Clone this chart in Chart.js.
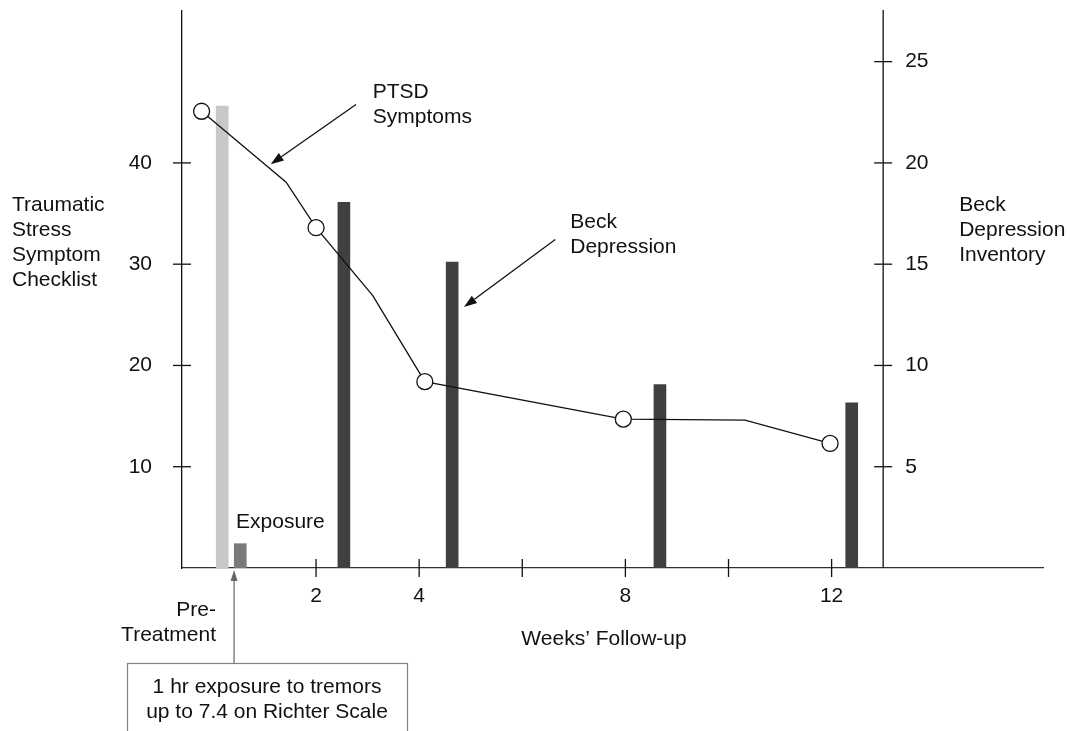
<!DOCTYPE html>
<html>
<head>
<meta charset="utf-8">
<script src="https://cdn.jsdelivr.net/npm/chart.js@4/dist/chart.umd.min.js"></script>
<style>
  html, body { margin: 0; padding: 0; background: #ffffff; }
  canvas { display: block; }
</style>
</head>
<body>
<canvas id="chart" width="1070" height="731"></canvas>
<script>
// Weeks of follow-up on the horizontal axis
const weekTicks = [2, 4, 6, 8, 10, 12];
const weekTickLabels = ['2', '4', '', '8', '', '12'];

// Left axis: Traumatic Stress Symptom Checklist
const tsscTicks = [10, 20, 30, 40];
// Right axis: Beck Depression Inventory
const bdiTicks = [5, 10, 15, 20, 25];

// PTSD symptom course (circles mark the assessments)
const ptsdWeeks  = [-0.22, 1.42, 2.0, 3.1, 4.11, 7.96, 10.32, 11.97];
const ptsdScores = [45.1, 38.1, 33.6, 26.9, 18.4, 14.7, 14.6, 12.3];
const ptsdAssessed = [true, false, true, false, true, true, false, true];

// Beck Depression scores
const beckPreWeeks  = [0.18];
const beckPreScores = [22.8];
const beckWeeks  = [2.54, 4.64, 8.67, 12.39];
const beckScores = [18.05, 15.1, 9.05, 8.15];

// Exposure marker
const exposureWeeks  = [0.53];
const exposureLevels = [2.4];

const FONT = "'Liberation Sans', Arial, Helvetica, sans-serif";
const FONT_SIZE = 21;
const INK = '#111111';
const BDI_AXIS_WEEK = 13;

function pts(xs, ys) { return xs.map((v, i) => ({ x: v, y: ys[i] })); }

function line(ctx, x1, y1, x2, y2) {
  ctx.beginPath(); ctx.moveTo(x1, y1); ctx.lineTo(x2, y2); ctx.stroke();
}

function arrow(ctx, x1, y1, x2, y2, len, half, color) {
  const ang = Math.atan2(y2 - y1, x2 - x1);
  const bx = x2 - len * Math.cos(ang), by = y2 - len * Math.sin(ang);
  ctx.strokeStyle = color; ctx.fillStyle = color;
  line(ctx, x1, y1, bx, by);
  ctx.beginPath();
  ctx.moveTo(x2, y2);
  ctx.lineTo(bx + half * Math.sin(ang), by - half * Math.cos(ang));
  ctx.lineTo(bx - half * Math.sin(ang), by + half * Math.cos(ang));
  ctx.closePath(); ctx.fill();
}

function lines(ctx, textLines, x, y, step) {
  textLines.forEach((t, i) => ctx.fillText(t, x, y + i * step));
}

// Axis lines, crossing tick marks, the right-hand BDI axis and annotations
const decor = {
  id: 'decor',
  afterDraw(chart) {
    const { ctx, chartArea: a, scales: { x, y, y2 } } = chart;
    ctx.save();
    ctx.lineWidth = 1.3;
    ctx.strokeStyle = INK;

    weekTicks.forEach(v => {
      const px = x.getPixelForValue(v);
      line(ctx, px, a.bottom - 9, px, a.bottom + 9);
    });
    tsscTicks.forEach(v => {
      const py = y.getPixelForValue(v);
      line(ctx, a.left - 9, py, a.left + 9, py);
    });

    const rx = x.getPixelForValue(BDI_AXIS_WEEK);
    line(ctx, rx, a.top - 1, rx, a.bottom);
    ctx.font = FONT_SIZE + 'px ' + FONT;
    ctx.fillStyle = INK;
    ctx.textBaseline = 'middle';
    ctx.textAlign = 'left';
    bdiTicks.forEach(v => {
      const py = y2.getPixelForValue(v);
      line(ctx, rx - 9, py, rx + 9, py);
      ctx.fillText(String(v), rx + 22, py);
    });

    // axis titles
    lines(ctx, ['Traumatic', 'Stress', 'Symptom', 'Checklist'], 12, 205, 25);
    lines(ctx, ['Beck', 'Depression', 'Inventory'], rx + 76, 205, 25);

    // series labels with arrows
    lines(ctx, ['PTSD', 'Symptoms'], x.getPixelForValue(3.10), y.getPixelForValue(47.0), 25);
    arrow(ctx, x.getPixelForValue(2.775), y.getPixelForValue(45.77),
               x.getPixelForValue(1.121), y.getPixelForValue(39.87), 13, 4.5, INK);
    lines(ctx, ['Beck', 'Depression'], x.getPixelForValue(6.93), y.getPixelForValue(34.17), 25);
    arrow(ctx, x.getPixelForValue(6.64), y.getPixelForValue(32.43),
               x.getPixelForValue(4.87), y.getPixelForValue(25.77), 13, 4.5, INK);
    ctx.fillText('Exposure', x.getPixelForValue(0.448), y.getPixelForValue(4.53));

    // below the axis
    ctx.textAlign = 'right';
    lines(ctx, ['Pre-', 'Treatment'], x.getPixelForValue(0.06), a.bottom + 42, 25);
    ctx.textAlign = 'center';
    ctx.fillText('Weeks\u2019 Follow-up', x.getPixelForValue(7.585), a.bottom + 71);

    // exposure note box and pointer
    const boxTop = a.bottom + 95;
    ctx.strokeStyle = '#808080';
    ctx.lineWidth = 1.2;
    ctx.strokeRect(127.5, boxTop + 0.5, 280, 120);
    arrow(ctx, x.getPixelForValue(0.41), boxTop, x.getPixelForValue(0.41), a.bottom + 2, 11, 3.5, '#666666');
    ctx.fillStyle = INK;
    lines(ctx, ['1 hr exposure to tremors', 'up to 7.4 on Richter Scale'], 267, a.bottom + 119, 25);
    ctx.restore();
  }
};

new Chart(document.getElementById('chart'), {
  type: 'line',
  data: {
    datasets: [
      {
        type: 'line',
        label: 'PTSD Symptoms',
        data: pts(ptsdWeeks, ptsdScores),
        yAxisID: 'y',
        borderColor: INK,
        borderWidth: 1.3,
        tension: 0,
        pointRadius: ptsdAssessed.map(m => (m ? 8 : 0)),
        pointBackgroundColor: '#ffffff',
        pointBorderColor: INK,
        pointBorderWidth: 1.3,
        order: 0
      },
      {
        type: 'bar',
        label: 'Beck Depression (pre-treatment)',
        data: pts(beckPreWeeks, beckPreScores),
        yAxisID: 'y2',
        backgroundColor: '#c8c8c8',
        barThickness: 12,
        grouped: false,
        order: 1
      },
      {
        type: 'bar',
        label: 'Exposure',
        data: pts(exposureWeeks, exposureLevels),
        yAxisID: 'y',
        backgroundColor: '#7a7a7a',
        barThickness: 12,
        grouped: false,
        order: 1
      },
      {
        type: 'bar',
        label: 'Beck Depression',
        data: pts(beckWeeks, beckScores),
        yAxisID: 'y2',
        backgroundColor: '#404040',
        barThickness: 12,
        grouped: false,
        order: 1
      }
    ]
  },
  options: {
    responsive: false,
    animation: false,
    devicePixelRatio: 1,
    layout: { padding: { left: 0, right: 27, top: 11, bottom: 0 } },
    plugins: { legend: { display: false }, tooltip: { enabled: false } },
    scales: {
      x: {
        type: 'linear',
        min: -0.6,
        max: 16.1,
        offset: false,
        afterBuildTicks: s => { s.ticks = weekTicks.map(v => ({ value: v })); },
        afterFit: s => { s.height = 163; s.paddingLeft = 0; s.paddingRight = 0; },
        grid: { display: false, drawTicks: false },
        border: { display: true, color: '#333333', width: 1.3 },
        ticks: {
          autoSkip: false,
          maxRotation: 0,
          padding: 16,
          color: INK,
          font: { family: FONT, size: FONT_SIZE },
          callback: v => weekTickLabels[weekTicks.indexOf(v)] ?? ''
        }
      },
      y: {
        type: 'linear',
        position: 'left',
        min: 0,
        max: 55,
        afterBuildTicks: s => { s.ticks = tsscTicks.map(v => ({ value: v })); },
        afterFit: s => { s.width = 182; s.paddingTop = 0; s.paddingBottom = 0; },
        grid: { display: false, drawTicks: false },
        border: { display: true, color: INK, width: 1.3 },
        ticks: {
          padding: 30,
          color: INK,
          font: { family: FONT, size: FONT_SIZE }
        }
      },
      y2: {
        type: 'linear',
        position: 'right',
        display: false,
        min: 0,
        max: 27.5
      }
    }
  },
  plugins: [decor]
});
</script>
</body>
</html>
